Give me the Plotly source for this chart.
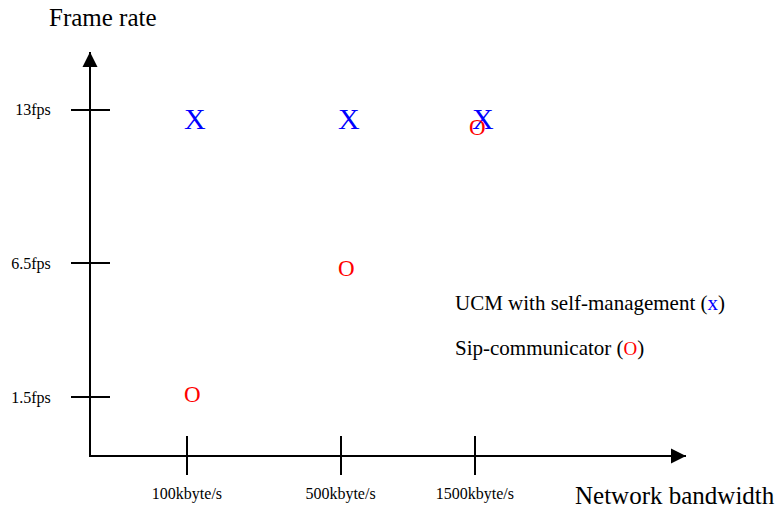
import plotly.graph_objects as go

# ---------------- data ----------------
bandwidth_labels = ["100kbyte/s", "500kbyte/s", "1500kbyte/s"]
fps_labels = ["1.5fps", "6.5fps", "13fps"]
ucm_fps = ["13fps", "13fps", "13fps"]          # UCM with self-management (x)
sip_fps = ["1.5fps", "6.5fps", "13fps"]        # Sip-communicator (o)
series_names = ["UCM with self-management", "Sip-communicator"]
axis_titles = ["Network bandwidth", "Frame rate"]

# ---------------- layout (schematic axis positions & styles) ----------------
bw_pos = [1.0, 2.6, 4.0]        # where each bandwidth category sits on the x axis
fps_pos = [1.0, 3.33, 6.0]      # where each frame-rate category sits on the y axis
X_RANGE = [0, 6.2]
Y_RANGE = [0, 7.0]
ucm_nudge = [(8, -9), (8, -9), (8, -9)]      # pixel nudges of the hand-placed glyphs
sip_nudge = [(6, 3), (6, -5), (3, -18)]

FONT = "Liberation Serif, Times New Roman, serif"
BLUE = "#0000ff"
RED = "#ff0000"

W, H = 775, 512
M = dict(l=91, r=89, t=52, b=57, autoexpand=False)

x_of = dict(zip(bandwidth_labels, bw_pos))
y_of = dict(zip(fps_labels, fps_pos))

fig = go.Figure()
fig.add_trace(go.Scatter(x=[], y=[], showlegend=False, hoverinfo="skip"))
fig.add_trace(go.Scatter(x=[], y=[], xaxis="x2", yaxis="y2", showlegend=False, hoverinfo="skip"))

annotations = []
for i, bw in enumerate(bandwidth_labels):
    dx, dy = ucm_nudge[i]
    annotations.append(dict(x=x_of[bw], y=y_of[ucm_fps[i]], xref="x", yref="y",
                            text="X", showarrow=False, xshift=dx, yshift=dy,
                            font=dict(family=FONT, size=30, color=BLUE)))
for i, bw in enumerate(bandwidth_labels):
    dx, dy = sip_nudge[i]
    annotations.append(dict(x=x_of[bw], y=y_of[sip_fps[i]], xref="x", yref="y",
                            text="O", showarrow=False, xshift=dx, yshift=dy,
                            font=dict(family=FONT, size=23, color=RED)))

# legend-like text
annotations.append(dict(x=0.6084, y=0.3784, xref="paper", yref="paper", xanchor="left",
                        yanchor="middle", showarrow=False,
                        text=f"{series_names[0]} (<span style='color:{BLUE}'>x</span>)",
                        font=dict(family=FONT, size=21, color="black")))
annotations.append(dict(x=0.6084, y=0.2655, xref="paper", yref="paper", xanchor="left",
                        yanchor="middle", showarrow=False,
                        text=f"{series_names[1]} (<span style='color:{RED};font-size:19px'>O</span>)",
                        font=dict(family=FONT, size=21, color="black")))

# axis titles
annotations.append(dict(x=0.0202, y=1.0844, xref="paper", yref="paper", xanchor="center",
                        yanchor="middle", showarrow=False, text=axis_titles[1],
                        font=dict(family=FONT, size=25, color="black")))
annotations.append(dict(x=0.8101, y=-0.0993, xref="paper", yref="paper", xanchor="left",
                        yanchor="middle", showarrow=False, text=axis_titles[0],
                        font=dict(family=FONT, size=25, color="black")))

# arrow heads at the axis ends
annotations.append(dict(x=1, y=0, xref="paper", yref="paper", ax=-30, ay=0,
                        text="", showarrow=True, arrowhead=2, arrowsize=1.5,
                        arrowwidth=2, arrowcolor="black", yshift=-1))
annotations.append(dict(x=0, y=1, xref="paper", yref="paper", ax=0, ay=30,
                        text="", showarrow=True, arrowhead=2, arrowsize=1.5,
                        arrowwidth=2, arrowcolor="black", xshift=-1))

common = dict(showgrid=False, zeroline=False, tickwidth=2, tickcolor="black",
              automargin=False)

fig.update_layout(
    template="none",
    width=W, height=H, margin=M,
    paper_bgcolor="white", plot_bgcolor="white",
    showlegend=False,
    font=dict(family=FONT, size=16, color="black"),
    annotations=annotations,
    xaxis=dict(range=X_RANGE, tickvals=bw_pos, ticktext=bandwidth_labels,
               ticks="outside", ticklen=18, showline=True, linewidth=2, linecolor="black",
               ticklabelstandoff=5, tickfont=dict(family=FONT, size=16, color="black"),
               **common),
    yaxis=dict(range=Y_RANGE, tickvals=fps_pos, ticktext=fps_labels,
               ticks="outside", ticklen=18, showline=True, linewidth=2, linecolor="black",
               ticklabelstandoff=17, tickfont=dict(family=FONT, size=16, color="black"),
               **common),
    xaxis2=dict(range=X_RANGE, tickvals=bw_pos, overlaying="x", anchor="y2", side="bottom",
                ticks="inside", ticklen=19, showticklabels=False, showline=False, **common),
    yaxis2=dict(range=Y_RANGE, tickvals=fps_pos, overlaying="y", anchor="x2", side="left",
                ticks="inside", ticklen=19, showticklabels=False, showline=False, **common),
)

fig.write_html("out.html",
               config={"displayModeBar": False},
               post_script="document.body.style.margin='0';document.body.style.overflow='hidden';")
